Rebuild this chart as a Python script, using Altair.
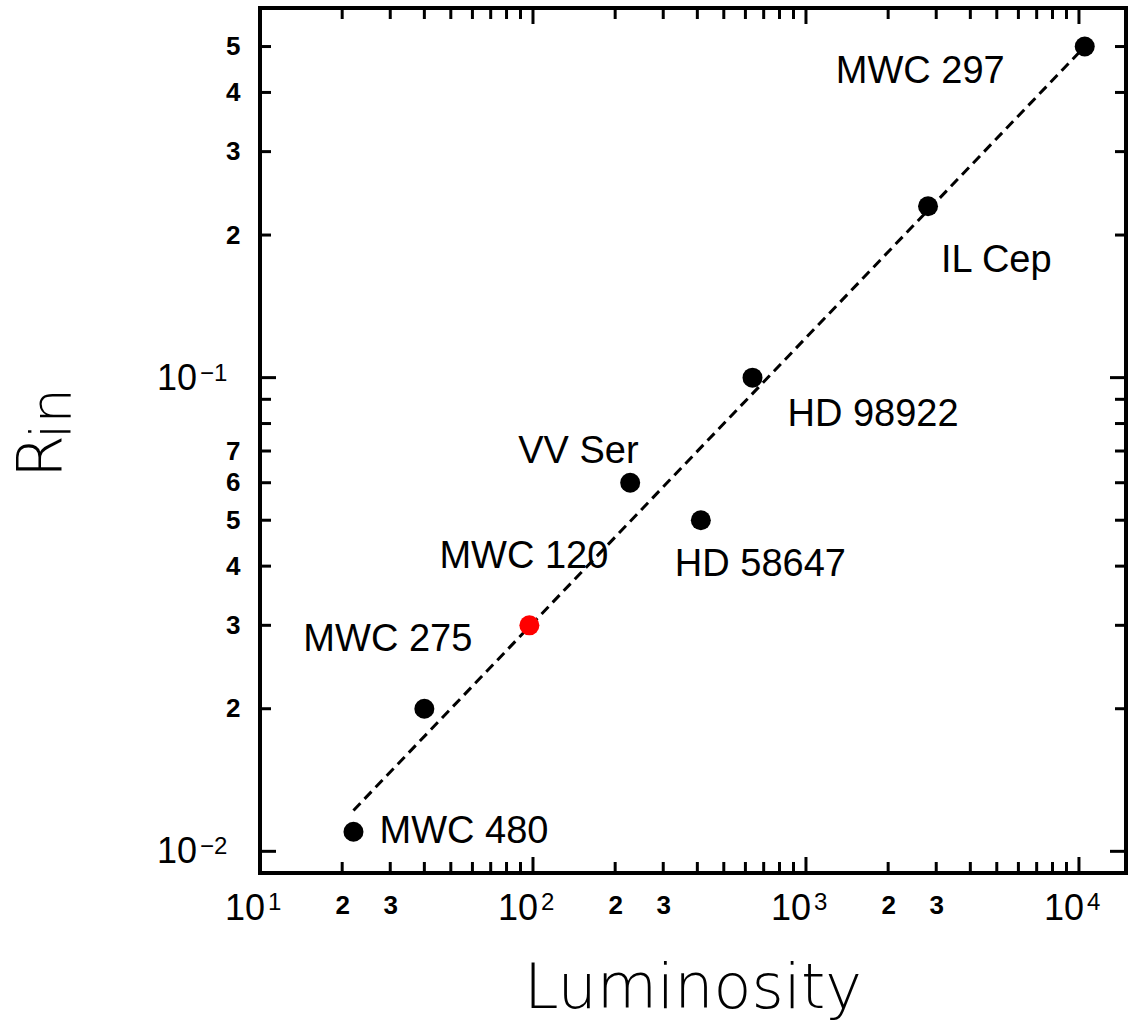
import altair as alt
import pandas as pd

# Inner-disk radius versus stellar luminosity for a sample of Herbig Ae/Be stars
stars = ["MWC 480", "MWC 275", "MWC 120", "VV Ser", "HD 58647", "HD 98922", "IL Cep", "MWC 297"]
luminosity = [22, 40, 97, 227, 412, 637, 2800, 10500]
r_in = [0.011, 0.020, 0.030, 0.060, 0.050, 0.100, 0.230, 0.500]
highlight = ["no", "no", "yes", "no", "no", "no", "no", "no"]

# Power-law trend through the sample
fit_lum = [22, 10500]
fit_rin = [0.0122, 0.50]

# Intermediate tick labels (mantissas) on each axis
x_tick_values = [20, 30, 200, 300, 2000, 3000]
x_tick_labels = ["2", "3", "2", "3", "2", "3"]
y_tick_values = [0.02, 0.03, 0.04, 0.05, 0.06, 0.07, 0.2, 0.3, 0.4, 0.5]
y_tick_labels = ["2", "3", "4", "5", "6", "7", "2", "3", "4", "5"]

# Decade labels, written as 10 with a raised exponent
x_decades = [10, 100, 1000, 10000]
x_exponents = ["1", "2", "3", "4"]
y_decades = [0.01, 0.1]
y_exponents = ["\u22122", "\u22121"]

# Tick marks
x_major = [100, 1000, 10000]
x_minor = [20, 30, 40, 50, 60, 70, 80, 90,
           200, 300, 400, 500, 600, 700, 800, 900,
           2000, 3000, 4000, 5000, 6000, 7000, 8000, 9000]
y_major = [0.01, 0.1]
y_minor = [0.02, 0.03, 0.04, 0.05, 0.06, 0.07, 0.08, 0.09, 0.2, 0.3, 0.4, 0.5]

# Layout and style
W, H = 866, 865
FONT = "Liberation Sans"
MAJOR_LEN, MINOR_LEN = 16, 11
label_offsets = {
    "MWC 480": (26, 11),
    "MWC 275": (-121, -58),
    "MWC 120": (-90, -57),
    "VV Ser": (-112, -20),
    "HD 58647": (-26, 56),
    "HD 98922": (35, 48),
    "IL Cep": (13, 66),
    "MWC 297": (-249, 36),
}

x_scale = alt.Scale(type="log", domain=[10, 14870], nice=False)
y_scale = alt.Scale(type="log", domain=[0.009, 0.603], nice=False)


def label_expr(values, labels):
    expr = "''"
    for v, lab in reversed(list(zip(values, labels))):
        expr = f"datum.value == {v} ? '{lab}' : ({expr})"
    return expr


x_axis = alt.Axis(
    values=x_tick_values, labelExpr=label_expr(x_tick_values, x_tick_labels),
    ticks=False, domain=False, grid=False, title=None,
    labelPadding=19, labelFont=FONT, labelFontSize=26, labelFontWeight="bold", labelColor="black",
    labelFlush=False, labelOverlap=False,
)
y_axis = alt.Axis(
    values=y_tick_values, labelExpr=label_expr(y_tick_values, y_tick_labels),
    ticks=False, domain=False, grid=False, title=None,
    labelPadding=20, labelFont=FONT, labelFontSize=26, labelFontWeight="bold", labelColor="black",
    labelFlush=False, labelOverlap=False,
)

stars_df = pd.DataFrame({"star": stars, "luminosity": luminosity, "r_in": r_in, "highlight": highlight})
fit_df = pd.DataFrame({"luminosity": fit_lum, "r_in": fit_rin})


def X():
    return alt.X("luminosity:Q", scale=x_scale, axis=x_axis)


def Y():
    return alt.Y("r_in:Q", scale=y_scale, axis=y_axis)


fit = alt.Chart(fit_df).mark_line(color="black", strokeWidth=3, strokeDash=[10, 6]).encode(x=X(), y=Y())

points = alt.Chart(stars_df).mark_circle(size=400, opacity=1).encode(
    x=X(), y=Y(),
    color=alt.Color("highlight:N", scale=alt.Scale(domain=["no", "yes"], range=["black", "#ff0000"]), legend=None),
)

labels = []
for name, (dx, dy) in label_offsets.items():
    labels.append(
        alt.Chart(stars_df).transform_filter(alt.datum.star == name).mark_text(
            align="left", baseline="alphabetic", dx=dx, dy=dy, font=FONT, fontSize=38, color="black"
        ).encode(x=X(), y=Y(), text="star:N")
    )


def x_ticks(values, length):
    df = pd.DataFrame({"luminosity": values})
    bottom = alt.Chart(df).mark_rule(color="black", strokeWidth=3).encode(
        x=X(), y=alt.value(H), y2=alt.value(H - length))
    top = alt.Chart(df).mark_rule(color="black", strokeWidth=3).encode(
        x=X(), y=alt.value(0), y2=alt.value(length))
    return [bottom, top]


def y_ticks(values, length):
    df = pd.DataFrame({"r_in": values})
    left = alt.Chart(df).mark_rule(color="black", strokeWidth=3).encode(
        y=Y(), x=alt.value(0), x2=alt.value(length))
    right = alt.Chart(df).mark_rule(color="black", strokeWidth=3).encode(
        y=Y(), x=alt.value(W), x2=alt.value(W - length))
    return [left, right]


ticks = (x_ticks(x_major, MAJOR_LEN) + x_ticks(x_minor, MINOR_LEN)
         + y_ticks(y_major, MAJOR_LEN) + y_ticks(y_minor, MINOR_LEN))

# Decade labels: "10" plus a smaller raised exponent
x_dec_df = pd.DataFrame({"luminosity": x_decades, "base": ["10"] * len(x_decades), "exp": x_exponents})
y_dec_df = pd.DataFrame({"r_in": y_decades, "base": ["10"] * len(y_decades), "exp": y_exponents})

x_dec_base = alt.Chart(x_dec_df).mark_text(
    align="right", baseline="top", dx=5, font=FONT, fontSize=36, color="black"
).encode(x=X(), y=alt.value(H + 19), text="base:N")
x_dec_exp = alt.Chart(x_dec_df).mark_text(
    align="left", baseline="top", dx=8, font=FONT, fontSize=24, color="black"
).encode(x=X(), y=alt.value(H + 18), text="exp:N")
y_dec_base = alt.Chart(y_dec_df).mark_text(
    align="right", baseline="middle", dy=1, font=FONT, fontSize=36, color="black"
).encode(y=Y(), x=alt.value(-63), text="base:N")
y_dec_exp = alt.Chart(y_dec_df).mark_text(
    align="left", baseline="top", dy=-16, font=FONT, fontSize=24, color="black"
).encode(y=Y(), x=alt.value(-60), text="exp:N")

x_title = alt.Chart(pd.DataFrame({"t": ["Luminosity"]})).mark_text(
    align="center", baseline="alphabetic", font="DejaVu Sans", fontWeight=200, fontSize=62, color="black"
).encode(x=alt.value(W / 2), y=alt.value(1000), text="t:N")

y_title_main = alt.Chart(pd.DataFrame({"t": ["R"]})).mark_text(
    align="left", baseline="alphabetic", angle=270, font="DejaVu Sans", fontWeight=200, fontSize=62, color="black"
).encode(x=alt.value(-198), y=alt.value(470), text="t:N")
y_title_sub = alt.Chart(pd.DataFrame({"t": ["in"]})).mark_text(
    align="left", baseline="alphabetic", angle=270, font="DejaVu Sans", fontWeight=200, fontSize=56, color="black"
).encode(x=alt.value(-190), y=alt.value(431), text="t:N")

# Points drawn after the dashed trend so they sit on top of it
chart = alt.layer(
    fit, *ticks, *labels, points,
    x_dec_base, x_dec_exp, y_dec_base, y_dec_exp,
    x_title, y_title_main, y_title_sub,
).properties(
    width=W, height=H,
    autosize=alt.AutoSizeParams(type="none"),
    padding={"left": 260, "top": 8, "right": 14, "bottom": 150},
).configure_view(stroke="black", strokeWidth=4)

chart.save("out.html", embed_options={"renderer": "svg", "actions": False})
